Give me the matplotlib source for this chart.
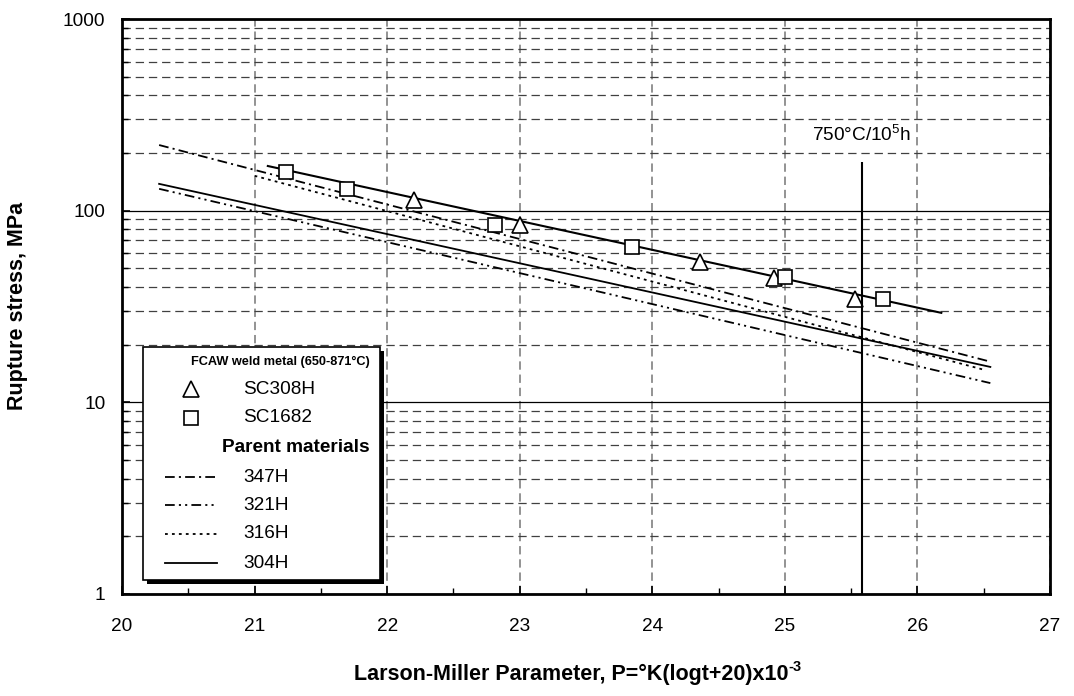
import matplotlib
matplotlib.use("Agg")
import matplotlib.pyplot as plt
from matplotlib.lines import Line2D
from matplotlib.patches import Rectangle
from matplotlib.ticker import FixedLocator, NullFormatter, FuncFormatter

plt.rcParams['font.family'] = ['Liberation Sans', 'DejaVu Sans']
plt.rcParams['mathtext.fontset'] = 'custom'
plt.rcParams['mathtext.rm'] = 'Liberation Sans'
plt.rcParams['lines.scale_dashes'] = False

# FCAW weld metal rupture data (P x 1e-3, MPa)
sc308h_p = [22.2, 23.0, 24.36, 24.92, 25.53]
sc308h_s = [114, 84, 54, 44.5, 34.6]
sc1682_p = [21.24, 21.7, 22.81, 23.85, 25.0, 25.74]
sc1682_s = [159, 130, 84, 64.5, 45, 34.6]

# fitted line through the weld metal points
fit_p = [21.1, 26.18]
fit_s = [171, 29.3]

# parent material curves
parent_names = ['347H', '321H', '316H', '304H']
parent_p = [[20.28, 26.55], [20.28, 26.55], [21.0, 26.5], [20.28, 26.55]]
parent_s = [[220, 16.3], [130, 12.6], [152, 14.8], [138, 15.3]]
parent_ls = [(0, (7, 3, 1.5, 3)), (0, (7, 3, 1.5, 3, 1.5, 3)), (0, (2, 3)), '-']

# 750C / 1e5 h reference
ref_p = 25.58
ref_top = 180
ref_label = '750°C/10$^{\\mathregular{5}}$h'

W, H = 1074, 696
fig = plt.figure(figsize=(W / 100, H / 100), dpi=100)
ax = fig.add_axes([122 / W, 1 - 594 / H, (1050 - 122) / W, (594 - 19) / H])


def fx(px):
    return px / W


def fy(py):
    return 1 - py / H


ax.set_xlim(20, 27)
ax.set_yscale('log')
ax.set_ylim(1, 1000)

# grid
ax.xaxis.set_major_locator(FixedLocator(range(20, 28)))
ax.xaxis.set_minor_locator(FixedLocator([20 + 0.5 * i for i in range(15)]))
minors = [m * 10 ** d for d in range(3) for m in range(2, 10)]
ax.yaxis.set_major_locator(FixedLocator([1, 10, 100, 1000]))
ax.yaxis.set_minor_locator(FixedLocator(minors))
ax.yaxis.set_minor_formatter(NullFormatter())
ax.yaxis.set_major_formatter(FuncFormatter(lambda v, _: '%d' % v))

ax.grid(True, axis='x', which='major', color='#808080', lw=1.2, ls=(0, (6, 3.5)))
ax.grid(True, axis='y', which='minor', color='#404040', lw=0.9, ls=(0, (6, 3.5)))
ax.grid(True, axis='y', which='major', color='black', lw=0.9, ls='-')

for s in ax.spines.values():
    s.set_linewidth(2)
ax.tick_params(which='both', direction='in', color='black', labelsize=13.7)
ax.tick_params(axis='x', which='major', length=6, width=1.2, pad=17)
ax.tick_params(axis='x', which='minor', length=4, width=1)
ax.tick_params(axis='y', which='major', length=6, width=1.2, pad=12)
ax.tick_params(axis='y', which='minor', length=4, width=1)

# parent material curves
for p, s, ls in zip(parent_p, parent_s, parent_ls):
    ax.plot(p, s, color='black', lw=1.3, ls=ls)

# weld metal fit and data
ax.plot(fit_p, fit_s, color='black', lw=1.5)
ax.plot(sc308h_p, sc308h_s, ls='none', marker='^', ms=11, mfc='white',
        mec='black', mew=1.2)
ax.plot(sc1682_p, sc1682_s, ls='none', marker='s', ms=10.5, mfc='white',
        mec='black', mew=1.2)

ax.vlines(ref_p, 1, ref_top, color='black', lw=1.5)
ax.text(ref_p, 250, ref_label, ha='center', va='center', fontsize=13.7)

fig.text(fx(18), fy(306), 'Rupture stress, MPa', rotation=90, ha='center',
         va='center', fontsize=15.5, fontweight='bold')
xl = fig.text(fx(571), fy(674), 'Larson-Miller Parameter, P=°K(logt+20)x10',
              ha='center', va='center', fontsize=15.5, fontweight='bold')
fig.canvas.draw()
bb = xl.get_window_extent()
fig.text(bb.x1 / W + 0.0005, fy(667), '-3', ha='left', va='center',
         fontsize=10.5, fontweight='bold')

# legend drawn by hand
lx0, lx1, ly0, ly1 = 143, 380, 347, 580
fig.add_artist(Rectangle((fx(lx0 + 4), fy(ly1 + 4)), fx(lx1 - lx0), (ly1 - ly0) / H,
                         transform=fig.transFigure, facecolor='black', lw=0))
fig.add_artist(Rectangle((fx(lx0), fy(ly1)), fx(lx1 - lx0), (ly1 - ly0) / H,
                         transform=fig.transFigure, facecolor='white',
                         edgecolor='black', lw=1.2))
rows = [362, 389, 418, 447, 477, 505, 534, 563]
fig.text(fx(191), fy(rows[0]), 'FCAW weld metal (650-871°C)', fontsize=9.2,
         fontweight='bold', va='center')
fig.add_artist(Line2D([fx(191)], [fy(rows[1])], transform=fig.transFigure,
                      marker='^', ms=11, mfc='white', mec='black', mew=1.2, ls='none'))
fig.text(fx(243), fy(rows[1]), 'SC308H', fontsize=13.7, va='center')
fig.add_artist(Line2D([fx(191)], [fy(rows[2])], transform=fig.transFigure,
                      marker='s', ms=10.5, mfc='white', mec='black', mew=1.2, ls='none'))
fig.text(fx(243), fy(rows[2]), 'SC1682', fontsize=13.7, va='center')
fig.text(fx(222), fy(rows[3]), 'Parent materials', fontsize=13.7,
         fontweight='bold', va='center')
for name, ls, r in zip(parent_names, parent_ls, rows[4:]):
    fig.add_artist(Line2D([fx(165), fx(217)], [fy(r), fy(r)], transform=fig.transFigure,
                          color='black', lw=1.3, ls=ls))
    fig.text(fx(243), fy(r), name, fontsize=13.7, va='center')

fig.savefig('out.png', dpi=100)
